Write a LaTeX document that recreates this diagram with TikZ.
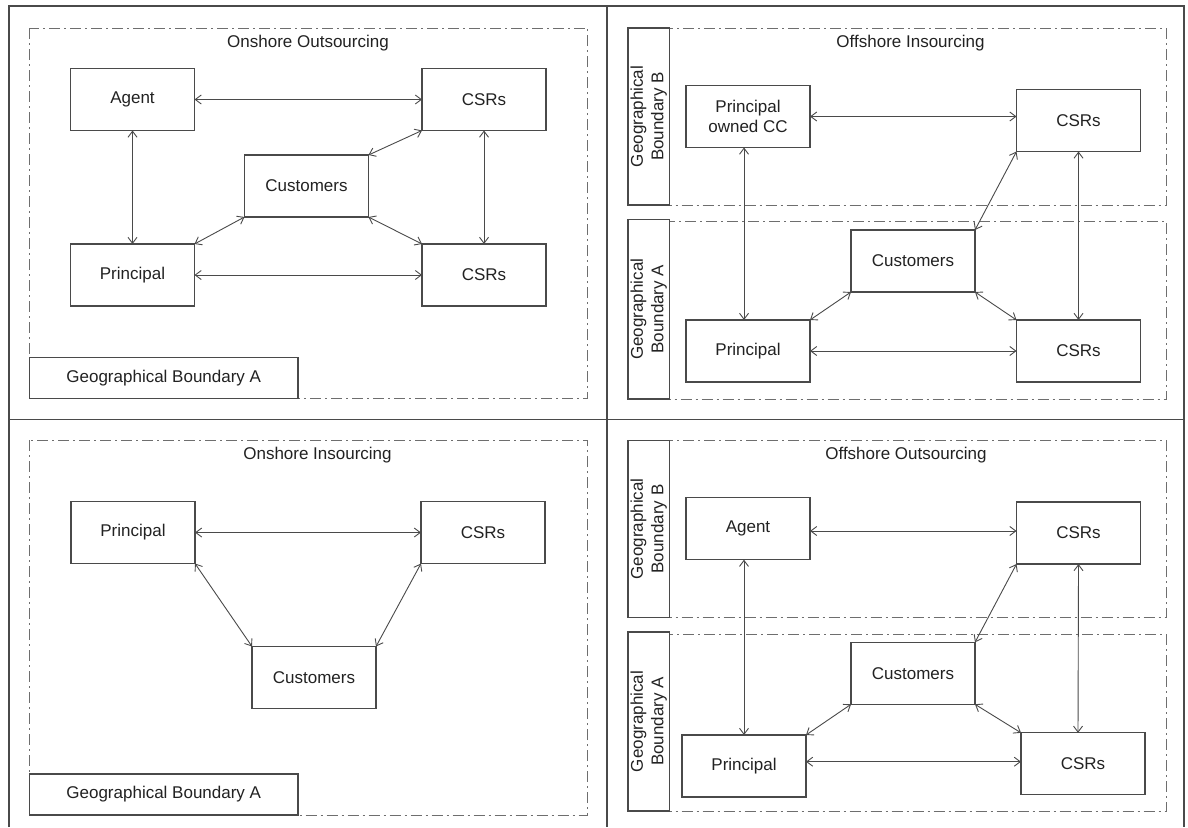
\documentclass[tikz,border=0pt]{standalone}
\usepackage{fontspec}
\setmainfont{Liberation Sans}
\usetikzlibrary{arrows.meta}
\definecolor{ln}{HTML}{4A4A4A}
\definecolor{tx}{HTML}{222222}
\tikzset{
  box/.style={draw=ln, line width=1.3pt, fill=white, minimum width=124pt, minimum height=62pt,
              inner sep=0pt, outer sep=0pt, text=tx, font=\fontsize{17}{20}\selectfont, align=center},
  geo/.style={draw=ln, line width=1.3pt, fill=white, inner sep=0pt, outer sep=0pt, text=tx,
              font=\fontsize{17}{20}\selectfont, align=center},
  region/.style={draw=ln!80, line width=1pt, dash pattern=on 11pt off 4pt on 2pt off 4pt},
  frame/.style={draw=ln, line width=1.6pt},
  title/.style={text=tx, font=\fontsize{17}{20}\selectfont, inner sep=0pt},
  link/.style={draw=ln, line width=0.9pt, {Straight Barb[length=6pt,width=9pt]}-{Straight Barb[length=6pt,width=9pt]}}
}
\begin{document}
\begin{tikzpicture}[x=1pt,y=-1pt]
\useasboundingbox[fill=white] (0,0) rectangle (1188,827);
% outer frame
\coordinate (tl) at (9,6);
\coordinate (tr) at (1184,6);
\coordinate (bl) at (9,827);
\coordinate (br) at (1184,827);
\coordinate (vt) at (607,6);
\coordinate (vb) at (607,827);
\coordinate (hl) at (9,419.5);
\coordinate (hr) at (1184,419.5);
\draw[frame] (bl) -- (tl) -- (tr) -- (br);
\draw[frame] (vt) -- (vb);
\draw[frame] (hl) -- (hr);

% ================= Top-left: Onshore Outsourcing
\draw[region] (29.5,28) rectangle (587.5,398.5);
\node[title] (t1) at (308,43) {Onshore Outsourcing};
\node[geo, minimum width=268.5pt, minimum height=41pt] (g1) at (163.75,378) {Geographical Boundary A};
\node[box] (a1) at (132.5,99.5) {Agent};
\node[box] (c1) at (484,99.5) {CSRs};
\node[box] (u1) at (306.5,186) {Customers};
\node[box] (p1) at (132.5,275) {Principal};
\node[box] (d1) at (484,275) {CSRs};
\draw[link] (a1.east) -- (c1.west);
\draw[link] (a1.south) -- (p1.north);
\draw[link] (c1.south) -- (d1.north);
\draw[link] (c1.south west) -- (u1.north east);
\draw[link] (u1.south west) -- (p1.north east);
\draw[link] (u1.south east) -- (d1.north west);
\draw[link] (p1.east) -- (d1.west);

% ================= Top-right: Offshore Insourcing
\draw[region] (669.5,28) rectangle (1166,205);
\draw[region] (669.5,221) rectangle (1166,399);
\node[geo, minimum width=41.5pt, minimum height=177pt] (gb2) at (648.75,116.5) {};
\node[geo, minimum width=41.5pt, minimum height=179.5pt] (ga2) at (648.75,309.25) {};
\node[title, rotate=90, align=center, font=\fontsize{17}{20.5}\selectfont] (gbt2) at (gb2.center) {Geographical\\Boundary B};
\node[title, rotate=90, align=center, font=\fontsize{17}{20.5}\selectfont] (gat2) at (ga2.center) {Geographical\\Boundary A};
\node[title] (t2) at (910.5,43.5) {Offshore Insourcing};
\node[box] (a2) at (748,116.5) {Principal\\owned CC};
\node[box] (c2) at (1078.5,120.5) {CSRs};
\node[box] (u2) at (913,261) {Customers};
\node[box] (p2) at (748,351) {Principal};
\node[box] (d2) at (1078.5,351) {CSRs};
\draw[link] (a2.east) -- (a2.east -| c2.west);
\draw[link] ([xshift=-4pt]a2.south) -- ([xshift=-4pt]p2.north);
\draw[link] (c2.south) -- (d2.north);
\draw[link] (c2.south west) -- (u2.north east);
\draw[link] (u2.south west) -- (p2.north east);
\draw[link] (u2.south east) -- (d2.north west);
\draw[link] (p2.east) -- (d2.west);

% ================= Bottom-left: Onshore Insourcing
\draw[region] (29.5,440) rectangle (587.5,815);
\node[title] (t3) at (317.5,455.5) {Onshore Insourcing};
\node[geo, minimum width=268.5pt, minimum height=41pt] (g3) at (163.75,794.5) {Geographical Boundary A};
\node[box] (p3) at (133,532.5) {Principal};
\node[box] (c3) at (483,532.5) {CSRs};
\node[box] (u3) at (314,677.5) {Customers};
\draw[link] (p3.east) -- (c3.west);
\draw[link] (p3.south east) -- (u3.north west);
\draw[link] (c3.south west) -- (u3.north east);

% ================= Bottom-right: Offshore Outsourcing
\draw[region] (669.5,440.5) rectangle (1166,617.5);
\draw[region] (669.5,634) rectangle (1166,811);
\node[geo, minimum width=41.5pt, minimum height=177pt] (gb4) at (648.75,529) {};
\node[geo, minimum width=41.5pt, minimum height=179pt] (ga4) at (648.75,721.5) {};
\node[title, rotate=90, align=center, font=\fontsize{17}{20.5}\selectfont] (gbt4) at (gb4.center) {Geographical\\Boundary B};
\node[title, rotate=90, align=center, font=\fontsize{17}{20.5}\selectfont] (gat4) at (ga4.center) {Geographical\\Boundary A};
\node[title] (t4) at (906,455.5) {Offshore Outsourcing};
\node[box] (a4) at (748,528.7) {Agent};
\node[box] (c4) at (1078.5,533) {CSRs};
\node[box] (u4) at (913,673.3) {Customers};
\node[box] (p4) at (744,766) {Principal};
\node[box] (d4) at (1083,763.8) {CSRs};
\draw[link] ([yshift=-2.3pt]a4.east) -- ([yshift=-2.3pt]a4.east -| c4.west);
\draw[link] ([xshift=-4pt]a4.south) -- (p4.north);
\draw[link] (c4.south) -- ([xshift=-5pt]d4.north);
\draw[link] (c4.south west) -- (u4.north east);
\draw[link] (u4.south west) -- (p4.north east);
\draw[link] (u4.south east) -- (d4.north west);
\draw[link] ([yshift=4.3pt]p4.east) -- ([yshift=4.3pt]p4.east -| d4.west);
\end{tikzpicture}
\end{document}
